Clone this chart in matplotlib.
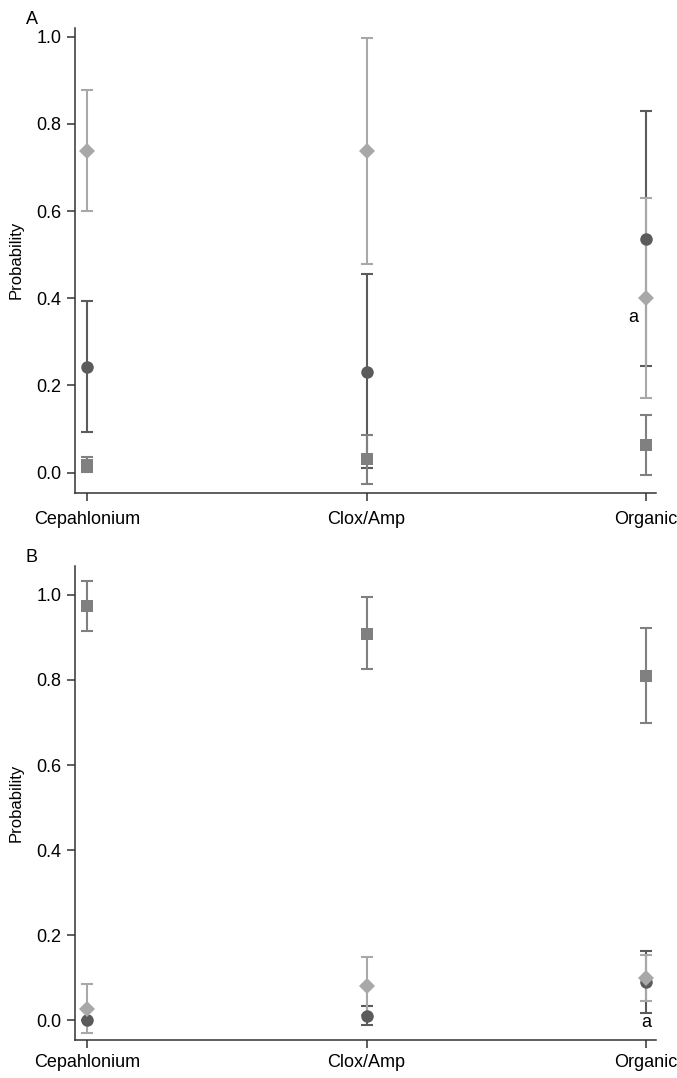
import matplotlib
matplotlib.use("Agg")
import matplotlib.pyplot as plt
import numpy as np

plt.rcParams['font.family'] = ['Liberation Sans', 'DejaVu Sans']

categories = ["Cepahlonium", "Clox/Amp", "Organic"]

# Panel A
a_circle = [0.243, 0.231, 0.537]
a_circle_lo = [0.092, 0.010, 0.244]
a_circle_hi = [0.393, 0.456, 0.830]
a_square = [0.017, 0.031, 0.063]
a_square_lo = [0.002, -0.027, -0.006]
a_square_hi = [0.035, 0.087, 0.133]
a_diamond = [0.739, 0.737, 0.400]
a_diamond_lo = [0.600, 0.479, 0.171]
a_diamond_hi = [0.878, 0.997, 0.630]

# Panel B
b_circle = [0.000, 0.011, 0.089]
b_circle_lo = [0.000, -0.012, 0.017]
b_circle_hi = [0.000, 0.033, 0.163]
b_square = [0.974, 0.909, 0.810]
b_square_lo = [0.914, 0.825, 0.698]
b_square_hi = [1.033, 0.995, 0.922]
b_diamond = [0.027, 0.080, 0.100]
b_diamond_lo = [-0.031, 0.013, 0.046]
b_diamond_hi = [0.085, 0.148, 0.154]

yticks = [0.0, 0.2, 0.4, 0.6, 0.8, 1.0]

DARK = "#5b5b5b"
MID = "#808080"
LIGHT = "#a8a8a8"

fig = plt.figure(figsize=(6.77, 10.78), dpi=100)
axA = fig.add_axes([0.111, 0.543, 0.858, 0.431])
axB = fig.add_axes([0.111, 0.035, 0.858, 0.440])

def draw(ax, series, ylim, label, a_pos, xpad):
    x = np.arange(len(categories))
    for vals, lo, hi, color, marker, ms in series:
        vals = np.array(vals); lo = np.array(lo); hi = np.array(hi)
        ax.errorbar(x, vals, yerr=[vals - lo, hi - vals], fmt='none',
                    ecolor=color, elinewidth=1.5, capsize=4.0, capthick=1.5, zorder=2)
    for vals, lo, hi, color, marker, ms in series:
        ax.plot(x, vals, linestyle='none', marker=marker, color=color,
                markersize=ms, markeredgewidth=0, zorder=3)
    ax.set_xlim(-0.043, 2.036)
    ax.set_ylim(*ylim)
    ax.set_yticks(yticks)
    ax.set_yticklabels([f"{t:.1f}" for t in yticks])
    ax.set_xticks(x)
    ax.set_xticklabels(categories)
    for s in ['top', 'right']:
        ax.spines[s].set_visible(False)
    for s in ['left', 'bottom']:
        ax.spines[s].set_linewidth(1.1)
        ax.spines[s].set_color("#333333")
    ax.tick_params(axis='both', direction='out', length=6, width=1.1, color="#333333",
                   labelsize=13, pad=4)
    ax.tick_params(axis='x', pad=xpad)
    ax.set_ylabel("Probability", fontsize=12, labelpad=9)
    ax.text(-0.085, 1.0, label, transform=ax.transAxes, fontsize=13,
            ha='left', va='bottom')
    ax.text(a_pos[0], a_pos[1], "a", fontsize=13, ha='center', va='center', zorder=4)

draw(axA, [
    (a_circle, a_circle_lo, a_circle_hi, DARK, 'o', 9),
    (a_square, a_square_lo, a_square_hi, MID, 's', 8),
    (a_diamond, a_diamond_lo, a_diamond_hi, LIGHT, 'D', 8.5),
], (-0.046, 1.02), "A", (1.955, 0.355), 7)

draw(axB, [
    (b_circle, b_circle_lo, b_circle_hi, DARK, 'o', 9),
    (b_square, b_square_lo, b_square_hi, MID, 's', 8),
    (b_diamond, b_diamond_lo, b_diamond_hi, LIGHT, 'D', 8.5),
], (-0.047, 1.068), "B", (2.0, -0.006), 4)

fig.savefig("out.png", dpi=100)
